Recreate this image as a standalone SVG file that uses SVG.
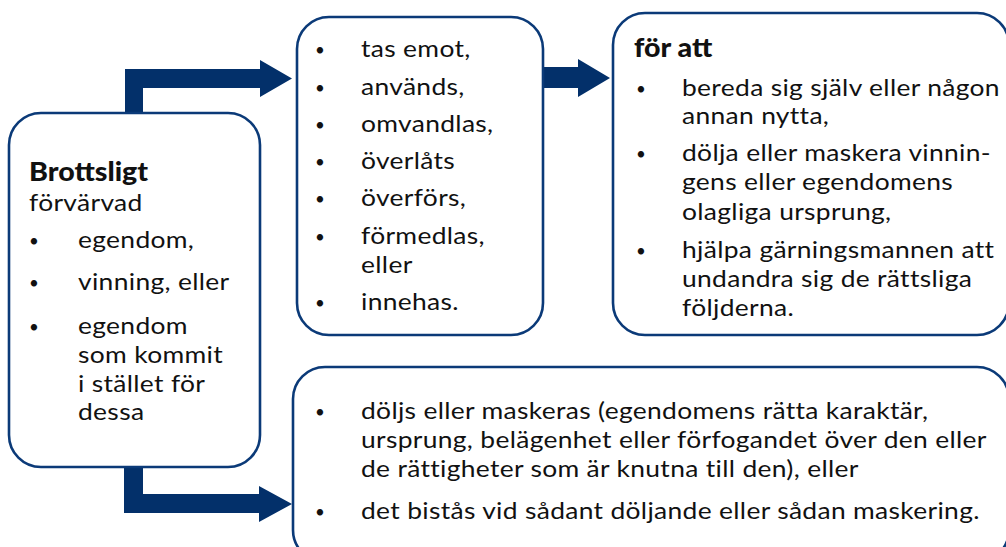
<svg xmlns="http://www.w3.org/2000/svg" width="1006" height="547" viewBox="0 0 1006 547">
<style>
.box{fill:#fff;stroke:#0b3a78;stroke-width:2.6}
.arr{fill:#03306a}
text{font-family:Lato,"Open Sans","Liberation Sans",sans-serif;font-size:24px;letter-spacing:0.3px;fill:#111}
.b{font-weight:900;font-size:26px;letter-spacing:0}
.bl{font-size:17px}
</style>
<rect width="1006" height="547" fill="#fff"/>
<g id="connectors">
<polygon class="arr" points="125,115 125,69 260,69 260,60 292,78.5 260,97 260,88 143,88 143,115"/>
<polygon class="arr" points="124,466 124,513 259,513 259,522 292,504 259,486 259,494 143,494 143,466"/>
<polygon class="arr" points="544,67 578,67 578,59 610,78 578,97 578,88 544,88"/>
</g>
<g id="source">
<rect class="box" x="9" y="113" width="251" height="354" rx="32"/>
<g transform="translate(29 0) scale(1.1 1)">
<text class="b" x="0" y="181">Brottsligt</text>
<text x="0" y="211">förvärvad</text>
</g>
<text class="bl" x="29" y="247">•</text><text class="bl" x="29" y="289">•</text><text class="bl" x="29" y="333">•</text>
<g transform="translate(78 0) scale(1.1 1)">
<text x="0" y="248">egendom,</text>
<text x="0" y="290">vinning, eller</text>
<text x="0" y="334">egendom<tspan x="0" y="363">som kommit</tspan><tspan x="0" y="392">i stället för</tspan><tspan x="0" y="420">dessa</tspan></text>
</g>
</g>
<g id="actions">
<rect class="box" x="297" y="17" width="246" height="318" rx="32"/>
<text class="bl" x="315" y="56">•</text><text class="bl" x="315" y="94">•</text><text class="bl" x="315" y="131">•</text><text class="bl" x="315" y="168">•</text><text class="bl" x="315" y="205">•</text><text class="bl" x="315" y="243">•</text><text class="bl" x="315" y="309">•</text>
<g transform="translate(361 0) scale(1.1 1)">
<text x="0" y="57">tas emot,</text>
<text x="0" y="95">används,</text>
<text x="0" y="132">omvandlas,</text>
<text x="0" y="169">överlåts</text>
<text x="0" y="206">överförs,</text>
<text x="0" y="244">förmedlas,<tspan x="0" y="273">eller</tspan></text>
<text x="0" y="310">innehas.</text>
</g>
</g>
<g id="purpose">
<rect class="box" x="613" y="13" width="396" height="322" rx="32"/>
<text class="b" x="634" y="57" transform="translate(634 0) scale(1.1 1) translate(-634 0)">för att</text>
<text class="bl" x="636" y="95">•</text><text class="bl" x="636" y="160">•</text><text class="bl" x="636" y="257">•</text>
<g transform="translate(682 0) scale(1.1 1)">
<text x="0" y="96">bereda sig själv eller någon<tspan x="0" y="124">annan nytta,</tspan></text>
<text x="0" y="161">dölja eller maskera vinnin-<tspan x="0" y="190">gens eller egendomens</tspan><tspan x="0" y="220">olagliga ursprung,</tspan></text>
<text x="0" y="258">hjälpa gärningsmannen att<tspan x="0" y="287">undandra sig de rättsliga</tspan><tspan x="0" y="316">följderna.</tspan></text>
</g>
</g>
<g id="concealment">
<rect class="box" x="293" y="367" width="716" height="195" rx="32"/>
<text class="bl" x="315" y="418">•</text><text class="bl" x="315" y="518">•</text>
<g transform="translate(361 0) scale(1.1 1)">
<text x="0" y="419">döljs eller maskeras (egendomens rätta karaktär,<tspan x="0" y="448">ursprung, belägenhet eller förfogandet över den eller</tspan><tspan x="0" y="477">de rättigheter som är knutna till den), eller</tspan></text>
<text x="0" y="519">det bistås vid sådant döljande eller sådan maskering.</text>
</g>
</g>
</svg>
